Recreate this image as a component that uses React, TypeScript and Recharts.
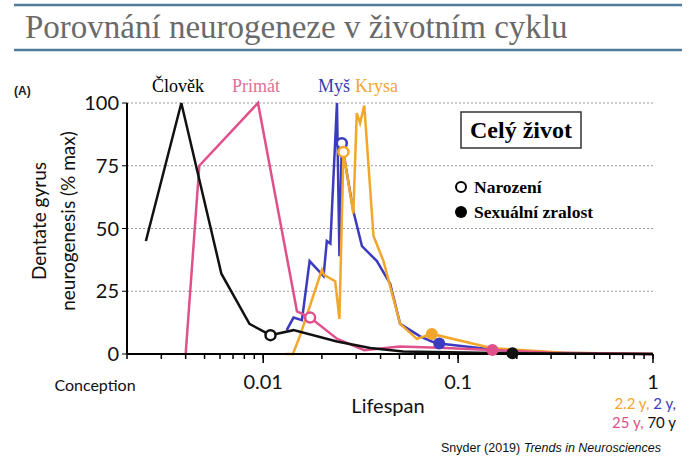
import React from 'react';
import { LineChart, Line, XAxis, YAxis, CartesianGrid } from 'recharts';

// Lifespan fraction (log scale) and % max neurogenesis for each species
const humanX = [0.0025, 0.0038, 0.0061, 0.0085, 0.0109, 0.0143, 0.0239, 0.0354, 0.0522, 0.19, 1];
const humanY = [45, 100, 32, 12, 7.5, 9.5, 5, 2.4, 1, 0.3, 0];
const humanMarks = ['', '', '', '', 'b', '', '', '', '', 's', ''];

const primateX = [0.004, 0.0047, 0.0094, 0.0149, 0.0174, 0.024, 0.033, 0.05, 0.08, 0.15, 0.3, 1];
const primateY = [0, 75, 100, 17, 14.5, 6, 1.5, 3, 2.5, 1.6, 0.5, 0];
const primateMarks = ['', '', '', '', 'b', '', '', '', '', 's', '', ''];

const mouseX = [0.0132, 0.0143, 0.0158, 0.0173, 0.0204, 0.0212, 0.0221, 0.0239, 0.0246, 0.0253, 0.029, 0.0321, 0.0383, 0.0448, 0.0504, 0.0638, 0.0733, 0.08, 0.15, 0.25, 1];
const mouseY = [9.5, 14.5, 13.5, 37, 31, 45, 44, 100, 39, 84, 57, 43, 37, 28, 12, 7, 5, 4.2, 1.8, 0.5, 0];
const mouseMarks = ['', '', '', '', '', '', '', '', '', 'b', '', '', '', '', '', '', '', 's', '', '', ''];

const ratX = [0.013, 0.0142, 0.0155, 0.02, 0.0205, 0.0234, 0.0246, 0.0258, 0.029, 0.0302, 0.0314, 0.033, 0.0368, 0.0414, 0.0504, 0.0614, 0.0733, 0.15, 0.35, 1];
const ratY = [0, 0, 7.6, 33.5, 31.5, 29, 14, 80.5, 56, 96, 92, 99, 47, 37, 12, 6, 8, 2.3, 0.5, 0];
const ratMarks = ['', '', '', '', '', '', '', 'b', '', '', '', '', '', '', '', '', 's', '', '', ''];

const xTicks = [0.002, 0.003, 0.004, 0.005, 0.006, 0.007, 0.008, 0.009, 0.01, 0.02, 0.03, 0.04, 0.05, 0.06, 0.07, 0.08, 0.09, 0.1, 0.2, 0.3, 0.4, 0.5, 0.6, 0.7, 0.8, 0.9, 1];
const xMajor = [0.01, 0.1, 1];
const yTicks = [0, 25, 50, 75, 100];

const COLORS = { human: '#111111', primate: '#e0508a', mouse: '#3b3bbf', rat: '#f2a62a' };

const build = (xs: number[], ys: number[], ms: string[]) => xs.map((x, i) => ({ x, y: ys[i], m: ms[i] }));

const human = build(humanX, humanY, humanMarks);
const primate = build(primateX, primateY, primateMarks);
const mouse = build(mouseX, mouseY, mouseMarks);
const rat = build(ratX, ratY, ratMarks);

const makeDot = (color: string) => (props: any) => {
  const { cx, cy, payload, index } = props;
  if (payload.m === 'b') {
    return <circle key={`b${index}`} cx={cx} cy={cy} r={5} fill="#fff" stroke={color} strokeWidth={2.5} />;
  }
  if (payload.m === 's') {
    return <circle key={`s${index}`} cx={cx} cy={cy} r={6} fill={color} stroke="none" />;
  }
  return <g key={`n${index}`} />;
};

const XTick = (props: any) => {
  const { x, y, payload } = props;
  const major = xMajor.includes(payload.value);
  return (
    <g>
      {major && <line x1={x} x2={x} y1={y - 5} y2={y + 4} stroke="#000" strokeWidth={1.5} />}
      {major && (
        <text x={x} y={y + 30} textAnchor="middle" fontFamily="Lato, sans-serif" fontSize={20} fill="#111">
          {String(payload.value)}
        </text>
      )}
    </g>
  );
};

const serif = '"Liberation Serif", "Times New Roman", serif';
const sans = 'Lato, "Open Sans", sans-serif';

export default function App() {
  return (
    <div style={{ position: 'absolute', left: 0, top: 0, width: 692, height: 470, background: '#fff' }}>
      <LineChart width={692} height={470} margin={{ top: 103, right: 39, bottom: 86, left: 87 }}>
        <CartesianGrid vertical={false} stroke="#9a9a9a" strokeDasharray="2 2" />
        <XAxis
          dataKey="x"
          type="number"
          scale="log"
          domain={[0.002, 1]}
          allowDataOverflow
          ticks={xTicks}
          tick={<XTick />}
          tickLine={{ stroke: '#000', strokeWidth: 1.5 }}
          tickSize={5}
          tickMargin={0}
          interval={0}
          axisLine={{ stroke: '#000', strokeWidth: 2 }}
          height={30}
        />
        <YAxis
          type="number"
          domain={[0, 100]}
          ticks={yTicks}
          width={40}
          tickSize={5}
          tickMargin={3}
          axisLine={{ stroke: '#000', strokeWidth: 2 }}
          tickLine={{ stroke: '#000', strokeWidth: 1 }}
          tick={{ fontFamily: sans, fontSize: 20, fill: '#111' }}
        />
        <Line data={mouse} dataKey="y" stroke={COLORS.mouse} strokeWidth={2.5} dot={makeDot(COLORS.mouse)} isAnimationActive={false} />
        <Line data={rat} dataKey="y" stroke={COLORS.rat} strokeWidth={2.5} dot={makeDot(COLORS.rat)} isAnimationActive={false} />
        <Line data={primate} dataKey="y" stroke={COLORS.primate} strokeWidth={2.5} dot={makeDot(COLORS.primate)} isAnimationActive={false} />
        <Line data={human} dataKey="y" stroke={COLORS.human} strokeWidth={2.5} dot={makeDot(COLORS.human)} isAnimationActive={false} />
      </LineChart>
      <svg width={692} height={470} style={{ position: 'absolute', left: 0, top: 0, pointerEvents: 'none' }}>
        <line x1={14} x2={682} y1={5} y2={5} stroke="#4f7a9a" strokeWidth={2.5} />
        <line x1={14} x2={682} y1={50} y2={50} stroke="#4f7a9a" strokeWidth={2.5} />
        <text x={25} y={38} fontFamily={serif} fontSize={33} fill="#6a6a6a">Porovnání neurogeneze v životním cyklu</text>
        <text x={14} y={95} fontFamily="Arial, 'Liberation Sans', sans-serif" fontWeight="bold" fontSize={12} fill="#222">(A)</text>
        <text x={152} y={92} fontFamily={serif} fontSize={18} fill="#000">Člověk</text>
        <text x={232} y={92} fontFamily={serif} fontSize={18} fill="#e0709a">Primát</text>
        <text x={318} y={92} fontFamily={serif} fontSize={18} fill="#3a3ab0">Myš</text>
        <text x={355} y={92} fontFamily={serif} fontSize={18} fill="#f0a830">Krysa</text>
        <text transform="translate(46,221) rotate(-90)" textAnchor="middle" fontFamily={sans} fontSize={19} fill="#111">Dentate gyrus</text>
        <text transform="translate(75,221) rotate(-90)" textAnchor="middle" fontFamily={sans} fontSize={19} fill="#111">neurogenesis (% max)</text>
        <rect x={461} y={112} width={120} height={36} fill="#fff" stroke="#333" strokeWidth={1.5} />
        <text x={521} y={138} textAnchor="middle" fontFamily={serif} fontWeight="bold" fontSize={24} fill="#000">Celý život</text>
        <circle cx={461} cy={187} r={5} fill="#fff" stroke="#000" strokeWidth={2} />
        <text x={474} y={193} fontFamily={serif} fontWeight="bold" fontSize={17.5} fill="#000">Narození</text>
        <circle cx={461} cy={212} r={6} fill="#000" />
        <text x={474} y={218} fontFamily={serif} fontWeight="bold" fontSize={17.5} fill="#000">Sexuální zralost</text>
        <text x={95} y={391} textAnchor="middle" fontFamily={sans} fontSize={16} fill="#111">Conception</text>
        <text x={388} y={413} textAnchor="middle" fontFamily={sans} fontSize={20} fill="#111">Lifespan</text>
        <text x={676} y={409} textAnchor="end" fontFamily={sans} fontSize={15}>
          <tspan fill="#f2a62a">2.2 y, </tspan>
          <tspan fill="#3b3bbf">2 y,</tspan>
        </text>
        <text x={676} y={428} textAnchor="end" fontFamily={sans} fontSize={15}>
          <tspan fill="#e0508a">25 y, </tspan>
          <tspan fill="#111">70 y</tspan>
        </text>
        <text x={441} y={452} fontFamily="Arial, 'Liberation Sans', sans-serif" fontSize={12.5} fill="#111">
          Snyder (2019) <tspan fontStyle="italic">Trends in Neurosciences</tspan>
        </text>
      </svg>
    </div>
  );
}
